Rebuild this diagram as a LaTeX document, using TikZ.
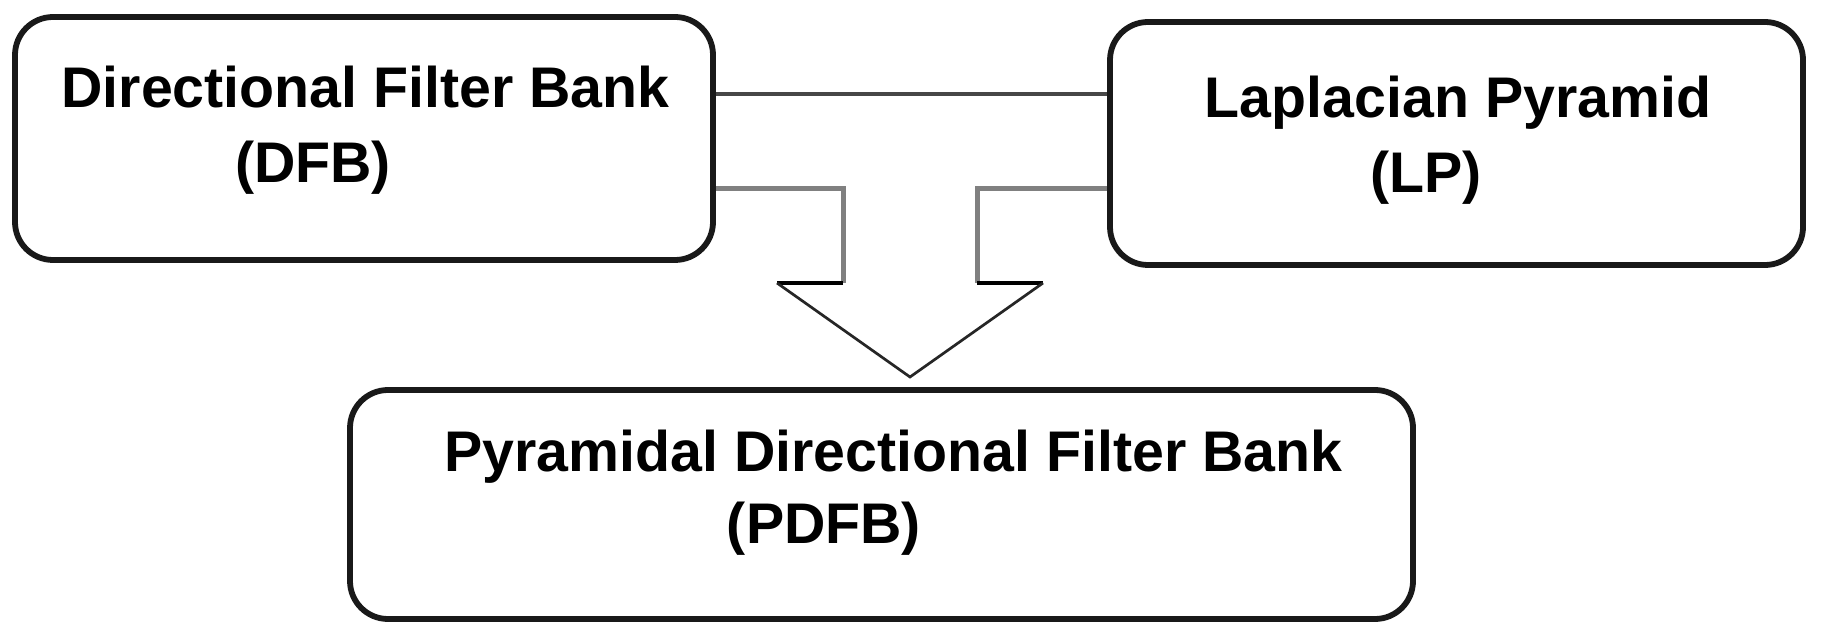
\documentclass[tikz,border=0pt]{standalone}
\usepackage{fontspec}
\setmainfont{Liberation Sans}
\usetikzlibrary{calc}
\begin{document}
\begin{tikzpicture}[x=0.1mm,y=-0.1mm,
  blockbox/.style={draw=black!90, line width=0.58mm, rounded corners=3.8mm,
    rectangle, inner sep=0pt, fill=white},
  label/.style={anchor=base, inner sep=0pt, font=\fontsize{16.3}{20}\selectfont\bfseries},
  topline/.style={draw=black!72, line width=0.4mm},
  shaft/.style={draw=black!50, line width=0.5mm, line join=miter},
  wing/.style={draw=black, line width=0.4mm},
  headline/.style={draw=black!85, line width=0.27mm, line join=miter}]
\useasboundingbox[fill=white] (0,0) rectangle (1826,638);
% boxes
\node[blockbox, minimum width=698*0.1mm, minimum height=243*0.1mm] (L) at (364,138.5) {};
\node[blockbox, minimum width=693*0.1mm, minimum height=243*0.1mm] (R) at (1456.5,143.5) {};
\node[blockbox, minimum width=1063*0.1mm, minimum height=229*0.1mm] (B) at (881.5,504.5) {};
% texts
\node[label] (L1) at (365.5,108) {Directional Filter Bank};
\node[label] (L2) at (313,183) {(DFB)};
\node[label] (R1) at (1458,118) {Laplacian Pyramid};
\node[label] (R2) at (1426,193) {(LP)};
\node[label] (B1) at (893.5,472) {Pyramidal Directional Filter Bank};
\node[label] (B2) at (824,543) {(PDFB)};
% helper coordinates
\coordinate (y1) at (0,94);
\coordinate (y2) at (0,189);
\coordinate (sl) at (843,189);
\coordinate (sr) at (977,189);
\coordinate (bl) at (843,283);
\coordinate (br) at (977,283);
\coordinate (wl) at (777,283);
\coordinate (wr) at (1043,283);
\coordinate (tip) at (910,377);
% connectors
\draw[topline] (L.east |- y1) -- (R.west |- y1);
\draw[shaft] (L.east |- y2) -- (sl) -- (bl);
\draw[shaft] (R.west |- y2) -- (sr) -- (br);
\draw[wing] (bl) -- (wl);
\draw[wing] (br) -- (wr);
\draw[headline] (wl) -- (tip) -- (wr);
\end{tikzpicture}
\end{document}
